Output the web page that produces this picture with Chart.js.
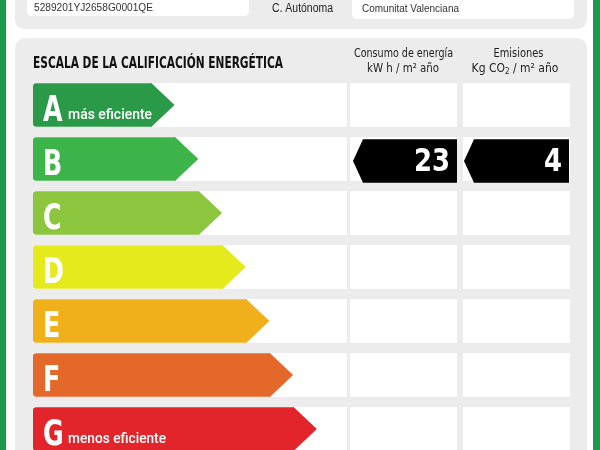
<!DOCTYPE html>
<html><head><meta charset="utf-8">
<script src="https://cdn.jsdelivr.net/npm/chart.js@4/dist/chart.umd.min.js"></script>
<style>html,body{margin:0;padding:0;overflow:hidden;background:#fff;width:600px;height:450px}canvas{display:block}</style>
</head><body>
<canvas id="c" width="600" height="456"></canvas>
<script>
// ---- data ----
const classes = ['A', 'B', 'C', 'D', 'E', 'F', 'G'];
const arrowLengths = [5, 6, 7, 8, 9, 10, 11];
const classColors = ['#2b9a48', '#3cb44a', '#8cc63f', '#e5ea1d', '#efb01c', '#e4682a', '#e2242b'];
const classNotes = ['más eficiente', '', '', '', '', '', 'menos eficiente'];
const consumoValue = 23;
const consumoClass = 'B';
const emisionesValue = 4;
const emisionesClass = 'B';
const refCatastral = '5289201YJ2658G0001QE';
const comunidadLabel = 'C. Autónoma';
const comunidad = 'Comunitat Valenciana';
const titleText = 'ESCALA DE LA CALIFICACIÓN ENERGÉTICA';
const consumoHeader = ['Consumo de energía', 'kW h / m² año'];
const emisionesHeader = ['Emisiones', 'Kg CO', '2', ' / m² año'];

const NARROW = '"Liberation Sans Narrow","DejaVu Sans Condensed",Roboto,sans-serif';
const SANS = '"Liberation Sans",Arial,sans-serif';

function rr(ctx, x, y, w, h, r) {
  ctx.beginPath();
  ctx.moveTo(x + r, y);
  ctx.lineTo(x + w - r, y);
  ctx.quadraticCurveTo(x + w, y, x + w, y + r);
  ctx.lineTo(x + w, y + h - r);
  ctx.quadraticCurveTo(x + w, y + h, x + w - r, y + h);
  ctx.lineTo(x + r, y + h);
  ctx.quadraticCurveTo(x, y + h, x, y + h - r);
  ctx.lineTo(x, y + r);
  ctx.quadraticCurveTo(x, y, x + r, y);
  ctx.closePath();
  ctx.fill();
}
function txt(ctx, s, x, y, font, color, align, maxW) {
  ctx.font = font;
  ctx.fillStyle = color;
  ctx.textAlign = align || 'left';
  ctx.textBaseline = 'alphabetic';
  if (maxW) ctx.fillText(s, x, y, maxW); else ctx.fillText(s, x, y);
}
function narrowTxt(ctx, s, x, y, font, color, align, sx) {
  ctx.save();
  ctx.translate(x, y);
  ctx.scale(sx, 1);
  txt(ctx, s, 0, 0, font, color, align);
  ctx.restore();
}

const backgroundPlugin = {
  id: 'certBackground',
  beforeDraw(chart) {
    const ctx = chart.ctx;
    ctx.save();
    ctx.fillStyle = '#ffffff';
    ctx.fillRect(0, 0, chart.width, chart.height);
    ctx.fillStyle = '#1c9a4c';
    ctx.fillRect(0, 0, 6, chart.height);
    ctx.fillRect(593, 0, 7, chart.height);
    // top panel
    ctx.fillStyle = '#ececec';
    rr(ctx, 15, -20, 572, 49, 11);
    ctx.fillStyle = '#ffffff';
    rr(ctx, 27, -10, 222, 26, 5);
    rr(ctx, 352, -10, 222, 29, 5);
    txt(ctx, refCatastral, 34, 11, '11px ' + SANS, '#333', 'left', 119);
    txt(ctx, comunidadLabel, 272, 12, '12px ' + SANS, '#222', 'left', 61);
    txt(ctx, comunidad, 362, 12, '11px ' + SANS, '#333', 'left', 97);
    // main panel
    ctx.fillStyle = '#ececec';
    rr(ctx, 15, 38, 572, 440, 12);
    txt(ctx, titleText, 33, 68, 'bold 16px ' + NARROW, '#111', 'left', 250);
    txt(ctx, consumoHeader[0], 403.5, 57, '12px ' + NARROW, '#222', 'center', 99);
    txt(ctx, consumoHeader[1], 403, 72, '12px ' + NARROW, '#222', 'center', 72);
    txt(ctx, emisionesHeader[0], 518.5, 57, '12px ' + NARROW, '#222', 'center', 50);
    // Kg CO2 / m2 año with subscript
    ctx.font = '12px ' + NARROW;
    const w1 = ctx.measureText(emisionesHeader[1]).width;
    const w3 = ctx.measureText(emisionesHeader[3]).width;
    ctx.font = '8px ' + NARROW;
    const w2 = ctx.measureText(emisionesHeader[2]).width;
    let sx = 515 - (w1 + w2 + w3) / 2;
    txt(ctx, emisionesHeader[1], sx, 72, '12px ' + NARROW, '#222', 'left');
    txt(ctx, emisionesHeader[2], sx + w1, 74, '8px ' + NARROW, '#222', 'left');
    txt(ctx, emisionesHeader[3], sx + w1 + w2, 72, '12px ' + NARROW, '#222', 'left');
    // rows
    const meta = chart.getDatasetMeta(0);
    meta.data.forEach((bar) => {
      const p = bar.getProps(['y', 'height'], true);
      const top = p.y - p.height / 2;
      ctx.fillStyle = '#ffffff';
      ctx.fillRect(33, top, 314, p.height);
      ctx.fillRect(350, top, 107, p.height);
      ctx.fillRect(463, top, 107, p.height);
    });
    ctx.restore();
  }
};

const arrowPlugin = {
  id: 'certArrows',
  afterDatasetsDraw(chart) {
    const ctx = chart.ctx;
    const meta = chart.getDatasetMeta(0);
    ctx.save();
    meta.data.forEach((bar, i) => {
      const p = bar.getProps(['x', 'y', 'base', 'height'], true);
      const top = p.y - p.height / 2, bot = p.y + p.height / 2;
      ctx.fillStyle = classColors[i];
      ctx.beginPath();
      ctx.moveTo(p.x - 1, top);
      ctx.lineTo(p.x, top);
      ctx.lineTo(p.x + 23, p.y);
      ctx.lineTo(p.x, bot);
      ctx.lineTo(p.x - 1, bot);
      ctx.closePath();
      ctx.fill();
      narrowTxt(ctx, classes[i], p.base + 10, p.y + 16, 'bold 36px ' + NARROW, '#ffffff', 'left', 0.78);
      if (classNotes[i]) {
        txt(ctx, classNotes[i], p.base + 35, p.y + 13.5, '500 14px Roboto,' + SANS, '#ffffff', 'left', i === 0 ? 84 : 98);
      }
    });
    function indicator(cls, value, left, right) {
      const bar = meta.data[classes.indexOf(cls)];
      const p = bar.getProps(['y', 'height'], true);
      const cy = p.y + 2;
      const top = cy - p.height / 2, bot = cy + p.height / 2;
      ctx.fillStyle = '#000000';
      ctx.beginPath();
      ctx.moveTo(left, cy);
      ctx.lineTo(left + 10, top);
      ctx.lineTo(right, top);
      ctx.lineTo(right, bot);
      ctx.lineTo(left + 10, bot);
      ctx.closePath();
      ctx.fill();
      narrowTxt(ctx, String(value), right - 7, p.y + 11.5, 'bold 32px ' + NARROW, '#ffffff', 'right', 0.9);
    }
    indicator(consumoClass, consumoValue, 353, 457);
    indicator(emisionesClass, emisionesValue, 464, 569);
    ctx.restore();
  }
};

new Chart(document.getElementById('c'), {
  type: 'bar',
  data: {
    labels: classes,
    datasets: [{
      data: arrowLengths,
      backgroundColor: classColors,
      borderWidth: 0,
      borderSkipped: false,
      borderRadius: { topLeft: 3, bottomLeft: 3, topRight: 0, bottomRight: 0 },
      barPercentage: 0.81,
      categoryPercentage: 1
    }]
  },
  options: {
    indexAxis: 'y',
    responsive: false,
    animation: false,
    events: [],
    layout: { padding: { left: 33, right: 254, top: 78, bottom: 0 } },
    scales: {
      x: { type: 'linear', min: 0, max: 13.2, display: false },
      y: { type: 'category', display: false }
    },
    plugins: { legend: { display: false }, tooltip: { enabled: false } }
  },
  plugins: [backgroundPlugin, arrowPlugin]
});
</script>
</body></html>
